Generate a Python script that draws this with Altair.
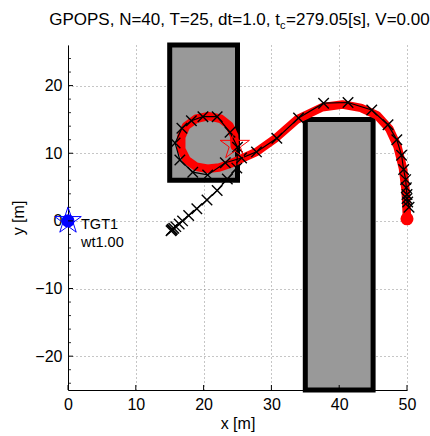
import math
import altair as alt
import pandas as pd

# ---- data -------------------------------------------------------------
# rectangular obstacles
obs_x1 = [15, 35]
obs_x2 = [25, 45]
obs_y1 = [6, -25]
obs_y2 = [26, 15]

# vehicle trajectory so far (black line, x markers)
path_x = [15.2, 15.3, 15.4, 15.6, 15.9, 16.4, 16.9, 17.8, 19.0, 20.5, 22.0, 23.5,
          24.9, 25.0, 23.9, 22.0, 19.9, 18.2, 16.8, 15.8, 16.5, 18.4, 20.6, 23.2,
          25.6, 27.8, 30.8, 34.0, 37.7, 41.3, 44.8, 47.2, 48.5, 49.2, 49.5, 49.8,
          49.9, 50.0, 50.0, 50.1, 50.3]
path_y = [-1.45, -1.35, -1.25, -1.1, -0.85, -0.45, 0.0, 0.8, 1.8, 3.1, 4.5, 6.2,
          7.8, 10.9, 13.1, 15.4, 15.4, 14.8, 13.7, 11.5, 9.0, 7.2, 6.8, 8.6,
          9.3, 10.2, 12.2, 15.2, 17.4, 17.5, 16.4, 14.2, 12.0, 9.7, 7.6, 6.1,
          4.9, 3.9, 3.3, 2.8, 2.0]

# optimised plan (red line)
plan_x = [24.6, 24.5, 23.8, 22.5, 20.7, 18.9, 17.4, 16.7, 16.7, 17.5, 18.9, 20.6,
          22.3, 23.8, 25.6, 27.8, 30.6, 33.8, 37.5, 40.5, 43.2, 45.6, 47.4, 48.6,
          49.4, 49.8, 50.0]
plan_y = [11.0, 12.6, 14.1, 15.1, 15.5, 15.1, 14.0, 12.4, 10.6, 9.0, 8.0, 7.7,
          7.9, 8.4, 9.2, 10.2, 12.2, 15.0, 16.8, 17.2, 16.7, 15.6, 13.6, 11.0,
          7.8, 4.5, 0.3]

# plan start (star) and end (dot)
start_x, start_y = [24.6], [11.2]
end_x, end_y = [50.0], [0.3]

# target
tgt_x, tgt_y = [0.0], [0.0]
tgt_name = ["TGT1"]
tgt_weight = ["wt1.00"]

x_ticks = [0, 10, 20, 30, 40, 50]
y_ticks = [-20, -10, 0, 10, 20]
y_minor = [v for v in range(-24, 26, 2) if v % 10 != 0]

title_head = "GPOPS, N=40, T=25, dt=1.0, t"
title_sub = "c"
title_tail = "=279.05[s], V=0.00"

# ---- styling helpers ----------------------------------------------------
FONT = "Liberation Sans"
W, H = 339, 345


def star_path():
    pts = []
    for k in range(10):
        a = math.radians(-90 + 36 * k)
        r = 1.0 if k % 2 == 0 else 0.382
        pts.append(f"{r * math.cos(a):.3f},{r * math.sin(a):.3f}")
    return "M" + "L".join(pts) + "Z"


STAR = star_path()
XMARK = "M-1,-1L1,1M-1,1L1,-1"

xs = alt.Scale(domain=[0, 50], nice=False, zero=False)
ys = alt.Scale(domain=[-25, 26], nice=False, zero=False)
xa = alt.Axis(values=x_ticks, title="x [m]", tickSize=0, labelPadding=6,
              titlePadding=3, labelFlush=False, labelOverlap=False)
ya = alt.Axis(values=y_ticks, title="y [m]", tickSize=0, labelPadding=6,
              titlePadding=8, labelFlush=False, labelOverlap=False)


def X(f):
    return alt.X(f, type="quantitative", scale=xs, axis=xa)


def Y(f):
    return alt.Y(f, type="quantitative", scale=ys, axis=ya)


obs = pd.DataFrame({"x1": obs_x1, "x2": obs_x2, "y1": obs_y1, "y2": obs_y2})
path = pd.DataFrame({"x": path_x, "y": path_y, "i": range(len(path_x))})
plan = pd.DataFrame({"x": plan_x, "y": plan_y, "i": range(len(plan_x))})
start = pd.DataFrame({"x": start_x, "y": start_y})
end = pd.DataFrame({"x": end_x, "y": end_y})
tgt = pd.DataFrame({"x": tgt_x, "y": tgt_y, "name": tgt_name, "wt": tgt_weight})
xt = pd.DataFrame({"v": x_ticks})
yt = pd.DataFrame({"v": y_ticks})
ym = pd.DataFrame({"v": y_minor})
one = pd.DataFrame({"a": [0]})

obstacles = alt.Chart(obs).mark_rect(
    fill="#999999", stroke="black", strokeWidth=5
).encode(x=X("x1"), x2="x2", y=Y("y1"), y2="y2")

plan_line = alt.Chart(plan).mark_line(
    color="#ff0000", strokeWidth=8.5, strokeCap="round", strokeJoin="round"
).encode(x=X("x"), y=Y("y"), order="i:Q")

end_dot = alt.Chart(end).mark_point(
    shape="circle", filled=True, color="#ff0000", size=170, opacity=1
).encode(x=X("x"), y=Y("y"))

path_line = alt.Chart(path).mark_line(
    color="black", strokeWidth=1.2
).encode(x=X("x"), y=Y("y"), order="i:Q")

path_marks = alt.Chart(path).mark_point(
    shape=XMARK, filled=False, color="black", strokeWidth=1.4, size=110, opacity=1
).encode(x=X("x"), y=Y("y"))

start_star = alt.Chart(start).mark_point(
    shape=STAR, filled=False, color="#ff0000", strokeWidth=1, size=950, opacity=1
).encode(x=X("x"), y=Y("y"))

tgt_dot = alt.Chart(tgt).mark_point(
    shape="circle", filled=True, color="#0000ff", size=170, opacity=1
).encode(x=X("x"), y=Y("y"))

tgt_star = alt.Chart(tgt).mark_point(
    shape=STAR, filled=False, color="#0000ff", strokeWidth=1, size=780, opacity=1
).encode(x=X("x"), y=Y("y"))

tgt_name_text = alt.Chart(tgt).mark_text(
    align="left", baseline="middle", font=FONT, fontSize=14.5, color="black", dx=13, dy=4
).encode(x=X("x"), y=Y("y"), text="name:N")

tgt_wt_text = alt.Chart(tgt).mark_text(
    align="left", baseline="middle", font=FONT, fontSize=14.5, color="black", dx=13, dy=22
).encode(x=X("x"), y=Y("y"), text="wt:N")

# inward ticks, MATLAB style
x_tick_rules = alt.Chart(xt).mark_rule(color="black", strokeWidth=1).encode(
    x=X("v"), y=alt.value(H), y2=alt.value(H - 5))
y_tick_rules = alt.Chart(yt).mark_rule(color="black", strokeWidth=1).encode(
    y=Y("v"), x=alt.value(0), x2=alt.value(5))
y_minor_rules = alt.Chart(ym).mark_rule(color="black", strokeWidth=0.8).encode(
    y=Y("v"), x=alt.value(0), x2=alt.value(3))

# title with a subscript
t_head = alt.Chart(one).mark_text(
    align="right", baseline="alphabetic", font=FONT, fontSize=17, color="black"
).encode(x=alt.value(212), y=alt.value(-20), text=alt.value(title_head))
t_sub = alt.Chart(one).mark_text(
    align="left", baseline="alphabetic", font=FONT, fontSize=11, color="black"
).encode(x=alt.value(212), y=alt.value(-16), text=alt.value(title_sub))
t_tail = alt.Chart(one).mark_text(
    align="left", baseline="alphabetic", font=FONT, fontSize=17, color="black"
).encode(x=alt.value(218), y=alt.value(-20), text=alt.value(title_tail))

chart = alt.layer(
    obstacles, plan_line, end_dot, path_line, path_marks, start_star,
    tgt_star, tgt_dot, tgt_name_text, tgt_wt_text,
    x_tick_rules, y_tick_rules, y_minor_rules,
    t_head, t_sub, t_tail,
).properties(
    width=W, height=H,
    autosize=alt.AutoSizeParams(type="none"),
    padding={"left": 68, "top": 45, "right": 23, "bottom": 46},
    background="white",
).configure_view(
    stroke=None
).configure_axis(
    labelFont=FONT, labelFontSize=16, labelColor="black",
    titleFont=FONT, titleFontSize=16, titleFontWeight="normal", titleColor="black",
    domainColor="black", domainWidth=1,
    grid=True, gridColor="#333333", gridDash=[1, 3], gridWidth=0.8, gridOpacity=0.7,
)

chart.save("out.html", embed_options={"renderer": "svg", "actions": False})
